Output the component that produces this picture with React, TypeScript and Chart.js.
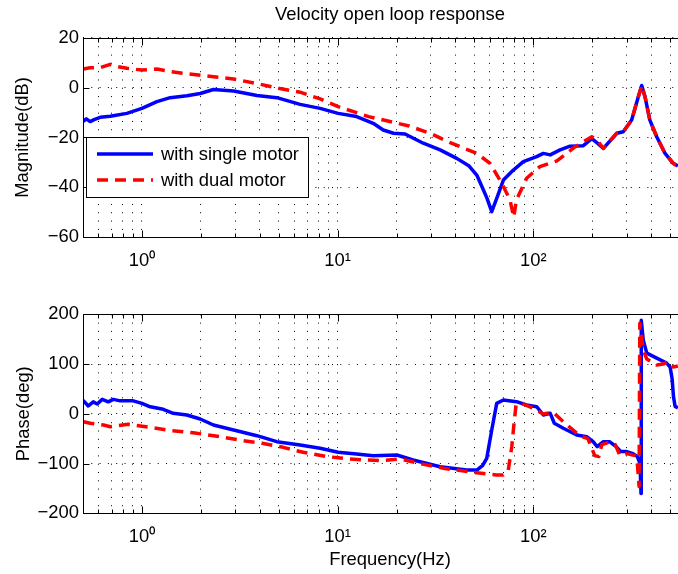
import React, { useEffect, useRef } from 'react';
import { Chart, registerables } from 'chart.js';

Chart.register(...registerables);

// ---------- text ----------
const chartTitle = 'Velocity open loop response';
const magAxisTitle = 'Magnitude(dB)';
const phaseAxisTitle = 'Phase(deg)';
const freqAxisTitle = 'Frequency(Hz)';
const seriesNames = ['with single motor', 'with dual motor'];

// ---------- ticks ----------
const xGridValues = [0.5, 0.6, 0.7, 0.8, 0.9, 1, 2, 3, 4, 5, 6, 7, 8, 9, 10, 20, 30, 40, 50, 60, 70, 80, 90, 100, 200, 300, 400, 500, 600];
const xLabelValues = [1, 10, 100];
const xLabels = ['10⁰', '10¹', '10²'];
const xRange = [0.5, 686];
const magTicks = [-60, -40, -20, 0, 20];
const phaseTicks = [-200, -100, 0, 100, 200];

// ---------- data: magnitude ----------
const singleMagFreq = [0.501, 0.52, 0.544, 0.57, 0.612, 0.689, 0.838, 1.0, 1.193, 1.395, 1.697, 1.985, 2.32, 2.94, 3.87, 4.89, 6.43, 8.14, 10.06, 12.5, 15.2, 17.1, 19.3, 22.1, 27.4, 33.4, 40.6, 47, 51.4, 55.6, 58, 61.3, 65, 70.3, 79.1, 88.9, 104, 112.5, 122, 137, 154, 180, 199, 214, 228, 267, 288, 318, 344, 358, 372, 394, 427, 471, 519, 548];
const singleMag = [-13.5, -12.5, -13.6, -12.8, -11.9, -11.5, -10.3, -8.3, -5.6, -4.0, -3.2, -2.3, -0.7, -1.3, -3.1, -4.0, -6.7, -8.3, -10.3, -11.6, -14.3, -17.0, -18.3, -18.6, -22.3, -25.0, -28.4, -31.5, -35.1, -41.1, -44.5, -49.8, -44.5, -37.1, -33.1, -29.7, -27.7, -26.4, -27.0, -25.0, -23.5, -23.3, -20.5, -22.5, -24.4, -18.3, -17.7, -13.0, -3.6, 0.9, -3.6, -13.0, -19.7, -26.4, -30.4, -31.5];

const dualMagFreq = [0.501, 0.544, 0.612, 0.689, 0.75, 0.838, 1.0, 1.193, 1.395, 1.75, 2.32, 2.94, 3.87, 4.89, 6.43, 8.14, 10.06, 14.4, 23.2, 30.3, 37.6, 51.4, 60.1, 69, 76, 79.4, 82, 92.4, 108, 132, 163, 199, 214, 228, 267, 288, 318, 344, 358, 372, 394, 427, 471, 519, 548];
const dualMag = [7.5, 8.0, 8.1, 9.4, 8.5, 7.8, 7.1, 7.5, 6.5, 5.5, 4.4, 3.5, 1.7, -0.1, -1.8, -4.5, -7.6, -11.6, -15.4, -18.6, -22.1, -26.4, -30.4, -38.4, -45.1, -52, -45.1, -36.4, -31.7, -29.4, -23.8, -19.7, -21.5, -24.4, -18.3, -17.7, -13.0, -3.6, 0.9, -3.6, -13.0, -19.7, -26.4, -30.4, -31.8];

// ---------- data: phase ----------
const singlePhaseFreq = [0.501, 0.532, 0.564, 0.591, 0.627, 0.673, 0.714, 0.775, 0.903, 1.0, 1.103, 1.285, 1.445, 1.697, 1.985, 2.32, 2.94, 3.87, 4.89, 6.43, 8.14, 10.06, 12.5, 15.2, 20.07, 24.3, 33.4, 45.7, 51.4, 55, 57.8, 61.3, 65, 70.3, 82, 92.4, 104, 112.5, 122, 128, 142.3, 166.6, 187.4, 202, 212, 228, 245, 265, 280, 300, 320, 340, 351, 355, 356, 364.6, 380, 427, 480, 500, 512, 520, 530, 548];
const singlePhase = [27, 15.7, 24, 19.7, 29, 24, 29, 26, 26, 21, 14, 9, 1, -2.4, -10.4, -22.5, -32.6, -44, -56, -62.7, -69.4, -77.4, -80.8, -84.2, -82.8, -92.9, -106.3, -113, -113, -104, -89.5, -32.6, 21, 27.7, 24.4, 17.7, 14.3, -2.4, 1, -19, -29, -42.6, -46, -56, -66, -56, -56, -66, -76, -76, -79.4, -86, -100, -160, 188, 148, 122, 112, 102, 94, 70, 35, 15, 12];

const dualPhaseFreq = [0.503, 0.544, 0.637, 0.689, 0.851, 1.09, 1.428, 1.828, 2.51, 3.14, 4.12, 5.27, 6.67, 8.84, 10.06, 11.36, 16.5, 21.0, 25.9, 34.7, 46.6, 65.0, 70.3, 74.5, 77.6, 79.7, 81.6, 87.2, 100, 112.5, 126.5, 142.3, 173.2, 190, 206, 216, 224, 245, 262, 277, 300, 330, 340, 347, 350, 364.6, 380, 427, 460, 489, 519, 548];
const dualPhase = [-15.9, -19.1, -22.5, -25.9, -21, -27, -34, -38, -46, -52.7, -59.3, -67.4, -77.4, -86.2, -88.2, -90.8, -94.2, -90.8, -99.5, -109.5, -116.4, -123, -123, -113, -66, -19, 17.7, 21, 11, -0.4, 3, -15.9, -44.6, -50, -84, -86, -62, -57, -62, -84, -80, -84, -100, -146, 182, 128, 110, 98, 100, 104.7, 94, 96];

// ---------- styling ----------
const FONT_FAMILY = "'Liberation Sans', Arial, Helvetica, sans-serif";
const FONT_SIZE = 18.4;
const BLUE = '#0000ff';
const RED = '#ff0000';
const LINE_W = 3.5;
const DASH = [11, 7];
const GRID_DOTS = [1, 7.3];

const table = (fs: number[], vs: number[]) => fs.map((f, i) => ({ x: f, y: vs[i] }));
const fmtNum = (v: number) => (v < 0 ? '\u2212' + Math.abs(v) : String(v));

const framePlugin = {
  id: 'matlabFrame',
  afterDatasetsDraw(chart: any) {
    const { ctx, chartArea: a, scales } = chart;
    ctx.save();
    ctx.setLineDash([]);
    ctx.strokeStyle = '#000';
    ctx.lineWidth = 1;
    const L = Math.round(a.left) + 0.5;
    const R = Math.round(a.right) + 0.5;
    const T = Math.round(a.top) + 0.5;
    const B = Math.round(a.bottom) + 0.5;
    ctx.strokeRect(L, T, R - L, B - T);
    ctx.beginPath();
    scales.x.ticks.forEach((t: any) => {
      const px = Math.round(scales.x.getPixelForValue(t.value)) + 0.5;
      const len = xLabelValues.includes(t.value) ? 7 : 4;
      ctx.moveTo(px, B);
      ctx.lineTo(px, B - len);
      ctx.moveTo(px, T);
      ctx.lineTo(px, T + len);
    });
    scales.y.ticks.forEach((t: any) => {
      const py = Math.round(scales.y.getPixelForValue(t.value)) + 0.5;
      ctx.moveTo(L, py);
      ctx.lineTo(L + 6, py);
      ctx.moveTo(R, py);
      ctx.lineTo(R - 6, py);
    });
    ctx.stroke();
    ctx.restore();
  },
};

const legendPlugin = {
  id: 'boxLegend',
  afterDraw(chart: any) {
    const { ctx } = chart;
    const bx = 86.5, by = 137.5, bw = 222, bh = 60;
    ctx.save();
    ctx.fillStyle = '#fff';
    ctx.fillRect(bx, by, bw, bh);
    ctx.strokeStyle = '#000';
    ctx.lineWidth = 1;
    ctx.setLineDash([]);
    ctx.strokeRect(bx, by, bw, bh);
    const rows = [154, 180];
    chart.data.datasets.forEach((ds: any, i: number) => {
      const y = rows[i];
      ctx.beginPath();
      ctx.strokeStyle = ds.borderColor;
      ctx.lineWidth = ds.borderWidth;
      ctx.setLineDash(ds.borderDash || []);
      ctx.moveTo(97, y);
      ctx.lineTo(153, y);
      ctx.stroke();
      ctx.setLineDash([]);
      ctx.fillStyle = '#000';
      ctx.font = `${FONT_SIZE}px ${FONT_FAMILY}`;
      ctx.textBaseline = 'middle';
      ctx.textAlign = 'left';
      ctx.fillText(ds.label, 161, y + 1);
    });
    ctx.restore();
  },
};

function makeConfig(opts: {
  single: { x: number; y: number }[];
  dual: { x: number; y: number }[];
  yMin: number;
  yMax: number;
  yTicks: number[];
  yTitle: string;
  yTitlePad: number;
  xTitle: string | null;
  title: string | null;
  padTop: number;
  xAxisHeight: number;
  xTickPad: number;
  withLegend: boolean;
}): any {
  const font = { family: FONT_FAMILY, size: FONT_SIZE, weight: 'normal' as const };
  return {
    type: 'line',
    data: {
      datasets: [
        { label: seriesNames[0], data: opts.single, borderColor: BLUE, borderWidth: LINE_W, pointRadius: 0, fill: false, order: 1, borderJoinStyle: 'round', borderCapStyle: 'butt' },
        { label: seriesNames[1], data: opts.dual, borderColor: RED, borderWidth: LINE_W, borderDash: DASH, pointRadius: 0, fill: false, order: 0, borderJoinStyle: 'round', borderCapStyle: 'butt' },
      ],
    },
    options: {
      responsive: false,
      animation: false,
      devicePixelRatio: 1,
      events: [],
      layout: { padding: { left: 0, right: 3, top: opts.padTop, bottom: 0 } },
      plugins: {
        legend: { display: false },
        tooltip: { enabled: false },
        title: opts.title
          ? { display: true, text: opts.title, fullSize: false, color: '#000', font, padding: { top: 3.5, bottom: 12.4 } }
          : { display: false },
      },
      scales: {
        x: {
          type: 'logarithmic',
          min: xRange[0],
          max: xRange[1],
          afterBuildTicks: (s: any) => {
            s.ticks = xGridValues.filter((v) => v >= xRange[0] && v <= xRange[1]).map((v) => ({ value: v }));
          },
          afterFit: (s: any) => {
            s.height = opts.xAxisHeight;
          },
          ticks: {
            autoSkip: false,
            maxRotation: 0,
            minRotation: 0,
            padding: opts.xTickPad,
            color: '#000',
            font,
            callback: (v: any) => {
              const i = xLabelValues.indexOf(Number(v));
              return i >= 0 ? xLabels[i] : '';
            },
          },
          grid: { color: '#000', lineWidth: 1, drawTicks: false },
          border: { display: false, dash: GRID_DOTS },
          title: opts.xTitle
            ? { display: true, text: opts.xTitle, color: '#000', font, padding: { top: 0, bottom: 3.5 } }
            : { display: false },
        },
        y: {
          type: 'linear',
          min: opts.yMin,
          max: opts.yMax,
          afterBuildTicks: (s: any) => {
            s.ticks = opts.yTicks.map((v) => ({ value: v }));
          },
          afterFit: (s: any) => {
            s.width = 83;
          },
          ticks: { padding: 4, color: '#000', font, callback: (v: any) => fmtNum(Number(v)) },
          grid: { color: '#000', lineWidth: 1, drawTicks: false },
          border: { display: false, dash: GRID_DOTS },
          title: { display: true, text: opts.yTitle, color: '#000', font, padding: { top: opts.yTitlePad, bottom: 0 } },
        },
      },
    },
    plugins: opts.withLegend ? [framePlugin, legendPlugin] : [framePlugin],
  };
}

export default function App() {
  const topRef = useRef<HTMLCanvasElement>(null);
  const botRef = useRef<HTMLCanvasElement>(null);

  useEffect(() => {
    const top = new Chart(
      topRef.current as HTMLCanvasElement,
      makeConfig({
        single: table(singleMagFreq, singleMag),
        dual: table(dualMagFreq, dualMag),
        yMin: -60,
        yMax: 20,
        yTicks: magTicks,
        yTitle: magAxisTitle,
        yTitlePad: 12,
        xTitle: null,
        title: chartTitle,
        padTop: 0,
        xAxisHeight: 50,
        xTickPad: 13,
        withLegend: true,
      })
    );
    const bot = new Chart(
      botRef.current as HTMLCanvasElement,
      makeConfig({
        single: table(singlePhaseFreq, singlePhase),
        dual: table(dualPhaseFreq, dualPhase),
        yMin: -200,
        yMax: 200,
        yTicks: phaseTicks,
        yTitle: phaseAxisTitle,
        yTitlePad: 13,
        xTitle: freqAxisTitle,
        title: null,
        padTop: 27.3,
        xAxisHeight: 60.7,
        xTickPad: 13,
        withLegend: false,
      })
    );
    return () => {
      top.destroy();
      bot.destroy();
    };
  }, []);

  return (
    <div style={{ position: 'absolute', left: 0, top: 0, width: 678, height: 574, overflow: 'hidden', background: '#fff' }}>
      <canvas ref={topRef} width={700} height={287} style={{ position: 'absolute', left: 0, top: 0, width: 700, height: 287 }} />
      <canvas ref={botRef} width={700} height={287} style={{ position: 'absolute', left: 0, top: 287, width: 700, height: 287 }} />
    </div>
  );
}
